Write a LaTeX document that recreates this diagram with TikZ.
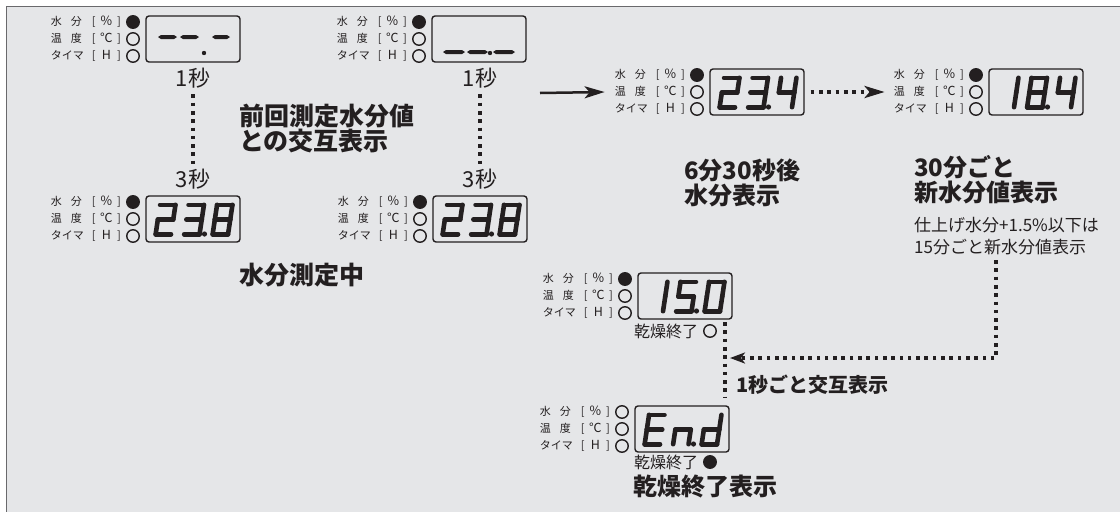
\documentclass[tikz,border=0pt]{standalone}
\usepackage{fontspec}
\setmainfont{Noto Sans CJK JP}
\usetikzlibrary{arrows.meta}
\definecolor{bg}{RGB}{229,230,232}
\definecolor{ink}{RGB}{35,31,32}
\definecolor{frm}{RGB}{105,105,108}
% seven-segment strokes (local coordinates, y up)
\newcommand\sga{\draw[dg] (2.3,31.7) -- (17.7,31.7);}
\newcommand\sgb{\draw[dg] (17.7,31.7) -- (17.7,17);}
\newcommand\sgc{\draw[dg] (17.7,17) -- (17.7,2.3);}
\newcommand\sgd{\draw[dg] (2.3,2.3) -- (17.7,2.3);}
\newcommand\sge{\draw[dg] (2.3,2.3) -- (2.3,17);}
\newcommand\sgf{\draw[dg] (2.3,17) -- (2.3,31.7);}
\newcommand\sgg{\draw[dg] (2.3,17) -- (17.7,17);}
\newcommand\dig[3]{\begin{scope}[shift={(#1,#2)},xslant=0.15,y={(0pt,1pt)}]\foreach \q in {#3}{\csname sg\q\endcsname}\end{scope}}
\newcommand\dsh[3]{\fill[ink] (#1,#3) -- ({#1+3},{#3-2}) -- ({#2-3},{#3-2}) -- (#2,#3) -- ({#2-3},{#3+2}) -- ({#1+3},{#3+2}) -- cycle;}
\newcommand\bigsym[1]{{\fontsize{12.5}{11}\selectfont #1}}
% display panel: name, box left, box top, lamp fills
\newcommand\panel[6]{%
 \node[dbox] (#1) at ({#2+47},{#3+23}) {};
 \node[lamp, fill=#4] (#1l1) at ({#2-13},{#3+6}) {};
 \node[lamp, fill=#5] (#1l2) at ({#2-13},{#3+23}) {};
 \node[lamp, fill=#6] (#1l3) at ({#2-13},{#3+40}) {};
 \node[lbl] (#1t1) at ({#2-25},{#3+6}) {\makebox[41pt][l]{水\hspace{9pt}分}\makebox[29pt]{[\hfill\bigsym{％}\hfill]}};
 \node[lbl] (#1t2) at ({#2-25},{#3+23}) {\makebox[41pt][l]{温\hspace{9pt}度}\makebox[29pt]{[\hfill\bigsym{℃}\hfill]}};
 \node[lbl] (#1t3) at ({#2-25},{#3+40}) {\makebox[41pt][l]{タイマ}\makebox[29pt]{[\hfill\bigsym{H}\hfill]}};
}
\begin{document}
\begin{tikzpicture}[x=1pt,y=-1pt,
 dg/.style={draw=ink, line width=4.6pt, line cap=round, line join=round},
 dbox/.style={draw=ink, line width=1.4pt, rounded corners=3pt, minimum width=94pt, minimum height=46pt, inner sep=0pt},
 lamp/.style={circle, draw=ink, line width=1.4pt, minimum size=12.5pt, inner sep=0pt},
 lbl/.style={font=\fontsize{11}{11}\selectfont, inner sep=0pt, text=ink, anchor=east},
 ttl/.style={font=\fontsize{24}{25}\selectfont\bfseries, align=left, inner sep=0pt, anchor=west, text=ink},
 sec/.style={font=\fontsize{22}{22}\selectfont, inner sep=0pt, text=ink},
 note/.style={font=\fontsize{17}{22}\selectfont, align=left, inner sep=0pt, anchor=west, text=ink},
 small/.style={font=\fontsize{16}{16}\selectfont, inner sep=0pt, anchor=west, text=ink},
 dots/.style={draw=ink, line width=3.6pt, dash pattern=on 3.6pt off 4.7pt},
 bighead/.style={-{Stealth[length=20pt,width=12pt,inset=5pt]}},
 smallhead/.style={-{Stealth[length=15pt,width=11pt,inset=4pt]}}]
\useasboundingbox (0,0) rectangle (1120,512);
\fill[white] (0,0) rectangle (1120,512);
\fill[bg] (6.5,6.5) rectangle (1120,512);
\draw[frm, line width=1.5pt] (1120,6.5) -- (6.5,6.5) -- (6.5,512);

% panels
\panel{pa}{146}{16}{ink}{none}{none}
\panel{pb}{432}{16}{ink}{none}{none}
\panel{pc}{146}{196}{ink}{none}{none}
\panel{pd}{433}{196}{ink}{none}{none}
\panel{pe}{710}{69}{ink}{none}{none}
\panel{pf}{989}{69}{ink}{none}{none}
\panel{pg}{638}{273}{ink}{none}{none}
\panel{ph}{635}{406}{none}{none}{none}

% display contents
\dsh{158}{177}{37}\dsh{180}{199}{37}\dsh{212}{230}{37}\fill[ink] (204,53) circle (2.2);
\dsh{443}{465}{52}\dsh{467}{488}{52}\dsh{493}{515}{52}\fill[ink] (490,53) circle (2.2);
\dig{153}{236.5}{a,b,g,e,d}\dig{181.5}{236.5}{a,b,g,c,d}\dig{210}{236.5}{a,b,c,d,e,f,g}\fill[ink] (204.5,234) circle (2.6);
\dig{440}{236.5}{a,b,g,e,d}\dig{468.5}{236.5}{a,b,g,c,d}\dig{497}{236.5}{a,b,c,d,e,f,g}\fill[ink] (491.5,234) circle (2.6);
\dig{717}{109.5}{a,b,g,e,d}\dig{745.5}{109.5}{a,b,g,c,d}\dig{774}{109.5}{f,g,b,c}\fill[ink] (768.5,107) circle (2.6);
\dig{996}{109.5}{b,c}\dig{1024.5}{109.5}{a,b,c,d,e,f,g}\dig{1053}{109.5}{f,g,b,c}\fill[ink] (1047.5,107) circle (2.6);
\dig{645}{313.5}{b,c}\dig{673.5}{313.5}{a,f,g,c,d}\dig{702}{313.5}{a,b,c,d,e,f}\fill[ink] (696.5,311) circle (2.6);
\dig{642}{446.5}{a,f,g,e,d}\dig{670.5}{446.5}{e,g,c}\dig{699}{446.5}{b,c,d,e,g}\fill[ink] (693.5,444) circle (2.6);

% texts
\node[sec] (s1a) at (193,78) {1秒};
\node[sec] (s1b) at (480,78) {1秒};
\node[sec] (s3a) at (193,179) {3秒};
\node[sec] (s3b) at (480,179) {3秒};
\node[ttl, font=\fontsize{25}{25}\selectfont\bfseries] (t1) at (239,128.5) {前回測定水分値\\との交互表示};
\node[ttl, font=\fontsize{25}{25}\selectfont\bfseries] (t2) at (239,275) {水分測定中};
\node[ttl] (t3) at (684,182.5) {6分30秒後\\水分表示};
\node[ttl] (t4) at (914,180) {30分ごと\\新水分値表示};
\node[note] (t5) at (914,236) {仕上げ水分+1.5\%以下は\\15分ごと新水分値表示};
\node[ttl, font=\fontsize{20}{20}\selectfont\bfseries] (t6) at (736,385) {1秒ごと交互表示};
\node[ttl] (t7) at (633,487) {乾燥終了表示};
\node[small] (k1) at (634,331) {乾燥終了};
\node[lamp] (k1l) at (710,331) {};
\node[small] (k2) at (634,462) {乾燥終了};
\node[lamp, fill=ink] (k2l) at (710,462) {};

% connectors
\draw[dots] ([yshift=-6pt]s1a.south) -- ([yshift=3pt]s3a.north);
\draw[dots] ([yshift=-6pt]s1b.south) -- ([yshift=3pt]s3b.north);
\coordinate (a0) at (540,93);
\draw[ink, line width=2.5pt, bighead] (a0) -- ([xshift=-10pt]pet2.west);
\draw[dots, bighead] ([xshift=6pt]pe.east) -- ([xshift=-9pt]pft2.west);
\coordinate (lA) at (996,260);
\coordinate (lB) at (730,358);
\draw[dots, smallhead] (lA) |- (lB);
\coordinate (vA) at (725,322);
\coordinate (vB) at (725,398);
\draw[dots] (vA) -- (vB);
\end{tikzpicture}
\end{document}
